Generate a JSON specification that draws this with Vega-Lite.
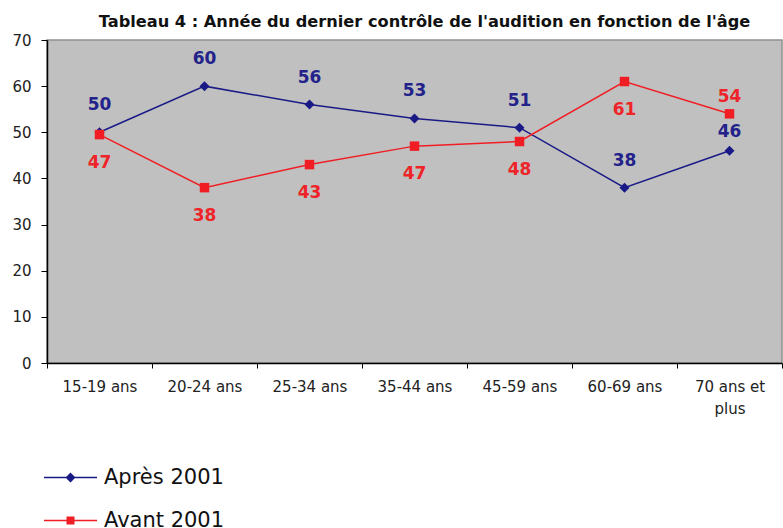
{
  "$schema": "https://vega.github.io/schema/vega-lite/v6.json",
  "autosize": {"type": "none"},
  "padding": {"left": 47, "top": 40, "right": 1, "bottom": 164},
  "width": 735,
  "height": 323,
  "background": "white",
  "title": {
    "text": "Tableau 4 : Année du dernier contrôle de l'audition en fonction de l'âge",
    "font": "DejaVu Sans",
    "fontSize": 16.2,
    "fontWeight": "bold",
    "color": "#111111",
    "anchor": "middle",
    "dx": 10,
    "offset": 3
  },
  "data": {
    "values": [
      {"age": "15-19 ans", "serie": "Après 2001", "valeur": 50, "etiquette": "50"},
      {"age": "20-24 ans", "serie": "Après 2001", "valeur": 60, "etiquette": "60"},
      {"age": "25-34 ans", "serie": "Après 2001", "valeur": 56, "etiquette": "56"},
      {"age": "35-44 ans", "serie": "Après 2001", "valeur": 53, "etiquette": "53"},
      {"age": "45-59 ans", "serie": "Après 2001", "valeur": 51, "etiquette": "51"},
      {"age": "60-69 ans", "serie": "Après 2001", "valeur": 38, "etiquette": "38"},
      {"age": "70 ans et plus", "serie": "Après 2001", "valeur": 46, "etiquette": "46"},
      {"age": "15-19 ans", "serie": "Avant 2001", "valeur": 49.5, "etiquette": "47"},
      {"age": "20-24 ans", "serie": "Avant 2001", "valeur": 38, "etiquette": "38"},
      {"age": "25-34 ans", "serie": "Avant 2001", "valeur": 43, "etiquette": "43"},
      {"age": "35-44 ans", "serie": "Avant 2001", "valeur": 47, "etiquette": "47"},
      {"age": "45-59 ans", "serie": "Avant 2001", "valeur": 48, "etiquette": "48"},
      {"age": "60-69 ans", "serie": "Avant 2001", "valeur": 61, "etiquette": "61"},
      {"age": "70 ans et plus", "serie": "Avant 2001", "valeur": 54, "etiquette": "54"}
    ]
  },
  "encoding": {
    "x": {
      "field": "age",
      "type": "nominal",
      "sort": null,
      "scale": {"type": "band", "paddingInner": 0, "paddingOuter": 0},
      "axis": {
        "title": null,
        "labelAngle": 0,
        "labelFont": "DejaVu Sans",
        "labelFontSize": 15,
        "labelColor": "#222222",
        "labelPadding": 18,
        "labelLineHeight": 22,
        "labelBaseline": "middle",
        "tickBand": "extent",
        "tickSize": 5,
        "tickColor": "#000000",
        "domainColor": "#000000",
        "domainWidth": 1.5,
        "labelExpr": "datum.label === '70 ans et plus' ? ['70 ans et', 'plus'] : datum.label"
      }
    },
    "y": {
      "field": "valeur",
      "type": "quantitative",
      "scale": {"domain": [0, 70], "nice": false},
      "axis": {
        "title": null,
        "values": [0, 10, 20, 30, 40, 50, 60, 70],
        "grid": false,
        "labelFont": "DejaVu Sans",
        "labelFontSize": 15,
        "labelColor": "#222222",
        "labelPadding": 10,
        "tickSize": 6,
        "tickColor": "#000000",
        "domainColor": "#000000",
        "domainWidth": 1.5
      }
    }
  },
  "layer": [
    {
      "mark": {"type": "line", "strokeWidth": 1.5},
      "encoding": {
        "color": {
          "field": "serie",
          "type": "nominal",
          "scale": {"domain": ["Après 2001", "Avant 2001"], "range": ["#1a1a86", "#f01e24"]},
          "legend": {
            "orient": "none",
            "legendX": 13,
            "legendY": 427,
            "title": null,
            "padding": 0,
            "symbolSize": 100,
            "labelFont": "DejaVu Sans",
            "labelFontSize": 21,
            "labelColor": "#111111",
            "labelOffset": 23,
            "rowPadding": 21,
            "encode": {
              "symbols": {
                "update": {
                  "shape": {"signal": "datum.value === 'Après 2001' ? 'M-5.3,-0.15H5.3V0.15H-5.3ZM-1,0L0,-1L1,0L0,1Z' : 'M-5.3,-0.15H5.3V0.15H-5.3ZM-0.8,-0.8H0.8V0.8H-0.8Z'"},
                  "fill": {"scale": "color", "field": "value"},
                  "fillOpacity": {"value": 1},
                  "strokeWidth": {"value": 0},
                  "opacity": {"value": 1}
                }
              }
            }
          }
        }
      }
    },
    {
      "transform": [{"filter": "datum.serie === 'Après 2001'"}],
      "mark": {"type": "point", "filled": true, "opacity": 1, "size": 100, "shape": "diamond", "color": "#1a1a86"}
    },
    {
      "transform": [{"filter": "datum.serie === 'Avant 2001'"}],
      "mark": {"type": "point", "filled": true, "opacity": 1, "size": 90, "shape": "square", "color": "#f01e24"}
    },
    {
      "transform": [{"filter": "datum.serie === 'Après 2001' && datum.age !== '70 ans et plus'"}],
      "mark": {"type": "text", "dy": -27, "font": "DejaVu Sans", "fontSize": 17, "fontWeight": "bold", "color": "#22228a"},
      "encoding": {"text": {"field": "etiquette"}}
    },
    {
      "transform": [{"filter": "datum.serie === 'Avant 2001' && datum.age !== '70 ans et plus'"}],
      "mark": {"type": "text", "dy": 28, "font": "DejaVu Sans", "fontSize": 17, "fontWeight": "bold", "color": "#ee2428"},
      "encoding": {"text": {"field": "etiquette"}}
    },
    {
      "transform": [{"filter": "datum.serie === 'Après 2001' && datum.age === '70 ans et plus'"}],
      "mark": {"type": "text", "dy": -19, "font": "DejaVu Sans", "fontSize": 17, "fontWeight": "bold", "color": "#22228a"},
      "encoding": {"text": {"field": "etiquette"}}
    },
    {
      "transform": [{"filter": "datum.serie === 'Avant 2001' && datum.age === '70 ans et plus'"}],
      "mark": {"type": "text", "dy": -17, "font": "DejaVu Sans", "fontSize": 17, "fontWeight": "bold", "color": "#ee2428"},
      "encoding": {"text": {"field": "etiquette"}}
    }
  ],
  "config": {
    "view": {"fill": "#c0c0c0", "stroke": "#909090", "strokeWidth": 1.5},
    "text": {"baseline": "middle"}
  }
}
